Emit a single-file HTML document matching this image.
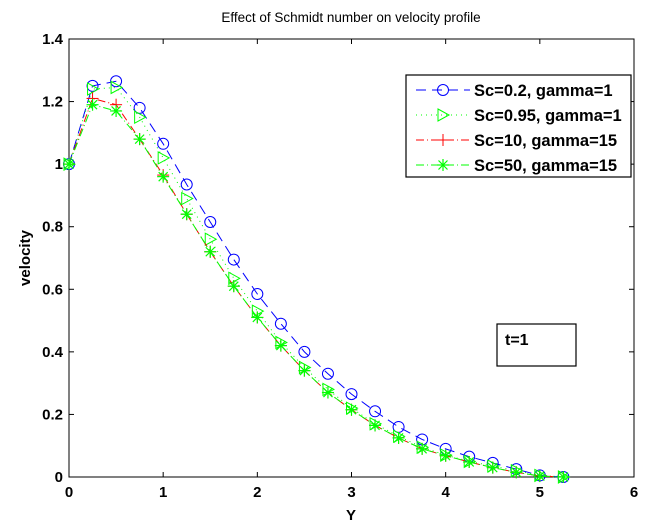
<!DOCTYPE html>
<html><head><meta charset="utf-8"><style>
body{margin:0;background:#fff;width:651px;height:530px;overflow:hidden}
svg{display:block;font-family:"Liberation Sans",Arial,sans-serif}
</style></head><body>
<svg id="chart" width="651" height="530" viewBox="0 0 651 530">
<rect width="651" height="530" fill="#fff"/>
<g id="plot"></g>
</svg>
<script>
const xs=[0,0.25,0.5,0.75,1,1.25,1.5,1.75,2,2.25,2.5,2.75,3,3.25,3.5,3.75,4,4.25,4.5,4.75,5,5.25];
const sc02=[1,1.25,1.265,1.18,1.065,0.935,0.815,0.695,0.585,0.49,0.40,0.33,0.265,0.21,0.16,0.12,0.09,0.065,0.045,0.025,0.005,0];
const sc095=[1,1.24,1.245,1.15,1.02,0.89,0.76,0.635,0.53,0.43,0.35,0.28,0.22,0.17,0.13,0.095,0.07,0.05,0.035,0.02,0.005,0];
const sc10=[1,1.21,1.19,1.08,0.965,0.84,0.72,0.61,0.51,0.42,0.34,0.27,0.215,0.165,0.125,0.09,0.068,0.048,0.03,0.015,0.003,0];
const sc50=[1,1.19,1.17,1.08,0.96,0.84,0.72,0.61,0.51,0.42,0.34,0.27,0.215,0.165,0.125,0.09,0.068,0.048,0.03,0.015,0.003,0];
const xTicks=[0,1,2,3,4,5,6];
const yTicks=[0,0.2,0.4,0.6,0.8,1,1.2,1.4];
const yTickLabels=["0","0.2","0.4","0.6","0.8","1","1.2","1.4"];
const legendLabels=["Sc=0.2, gamma=1","Sc=0.95, gamma=1","Sc=10, gamma=15","Sc=50, gamma=15"];

const L=69,R=634,T=39,B=477;
const sx=v=>L+(v-0)/6*(R-L);
const sy=v=>B-(v/1.4)*(B-T);
const NS="http://www.w3.org/2000/svg";
const g=document.getElementById('plot');
function mk(tag,attrs,parent){const e=document.createElementNS(NS,tag);for(const k in attrs)e.setAttribute(k,attrs[k]);(parent||g).appendChild(e);return e;}

const box=mk('rect',{x:L,y:T,width:R-L,height:B-T,fill:'none',stroke:'#000','stroke-width':1});


xTicks.forEach(t=>{
  const x=sx(t);
  mk('line',{x1:x,y1:B,x2:x,y2:B-5,stroke:'#000'});
  mk('line',{x1:x,y1:T,x2:x,y2:T+5,stroke:'#000'});
  const tx=mk('text',{x:x,y:B+20,'text-anchor':'middle','font-size':15,'font-weight':'bold'});
  tx.textContent=String(t);
  
  
});
yTicks.forEach((t,i)=>{
  const y=sy(t);
  mk('line',{x1:L,y1:y,x2:L+5,y2:y,stroke:'#000'});
  mk('line',{x1:R,y1:y,x2:R-5,y2:y,stroke:'#000'});
  const tx=mk('text',{x:L-6,y:y+5,'text-anchor':'end','font-size':15,'font-weight':'bold'});
  tx.textContent=yTickLabels[i];
  
  
});
const title=mk('text',{x:351,y:22,'text-anchor':'middle','font-size':13.5});
title.textContent='Effect of Schmidt number on velocity profile';


const xl=mk('text',{x:351,y:520,'text-anchor':'middle','font-size':15,'font-weight':'bold'});
xl.textContent='Y';


const yl=mk('text',{x:0,y:0,'text-anchor':'middle','font-size':15,'font-weight':'bold',transform:'translate(30,258) rotate(-90)'});
yl.textContent='velocity';



function marker(type,x,y,color,parent){
  if(type==='o')mk('circle',{cx:x,cy:y,r:5.5,fill:'none',stroke:color},parent);
  else if(type==='>')mk('polygon',{points:`${x-5},${y-6} ${x+6},${y} ${x-5},${y+6}`,fill:'none',stroke:color},parent);
  else if(type==='+'){mk('line',{x1:x-6,y1:y,x2:x+6,y2:y,stroke:color},parent);mk('line',{x1:x,y1:y-6,x2:x,y2:y+6,stroke:color},parent);}
  else if(type==='*'){[[6,0],[0,6],[4.5,4.5],[4.5,-4.5]].forEach(([a,b])=>mk('line',{x1:x-a,y1:y-b,x2:x+a,y2:y+b,stroke:color,'stroke-width':1.2},parent));}
}
const series=[
 {d:sc02,c:'#0000ff',dash:'10,6',m:'o',name:'series-sc-0-2'},
 {d:sc095,c:'#00ff00',dash:'1,4',m:'>',name:'series-sc-0-95'},
 {d:sc10,c:'#ff0000',dash:'8,3,1,3',m:'+',name:'series-sc-10'},
 {d:sc50,c:'#00ff00',dash:'8,3,1,3',m:'*',name:'series-sc-50'}
];
series.forEach(s=>{
  const sg=mk('g',{});
  
  
  mk('polyline',{points:xs.map((x,i)=>sx(x)+','+sy(s.d[i])).join(' '),fill:'none',stroke:s.c,'stroke-dasharray':s.dash,'stroke-width':1},sg);
  xs.forEach((x,i)=>marker(s.m,sx(x),sy(s.d[i]),s.c,sg));
});
const lg=mk('g',{});


mk('rect',{x:406,y:75,width:225,height:102,fill:'#fff',stroke:'#000','stroke-width':1.2},lg);
series.forEach((s,i)=>{
  const y=90+i*25;
  const e=mk('g',{},lg);
  
  
  mk('line',{x1:416,y1:y,x2:470,y2:y,stroke:s.c,'stroke-dasharray':s.dash},e);
  marker(s.m,443,y,s.c,e);
  const t=mk('text',{x:474,y:y+6,'font-size':16.5,'font-weight':'bold'},e);
  t.textContent=legendLabels[i];
});
const an=mk('g',{});


mk('rect',{x:497,y:324,width:79,height:42,fill:'#fff',stroke:'#000','stroke-width':1.2},an);
const at=mk('text',{x:505,y:345,'font-size':16,'font-weight':'bold'},an);
at.textContent='t=1';
</script>
</body></html>
